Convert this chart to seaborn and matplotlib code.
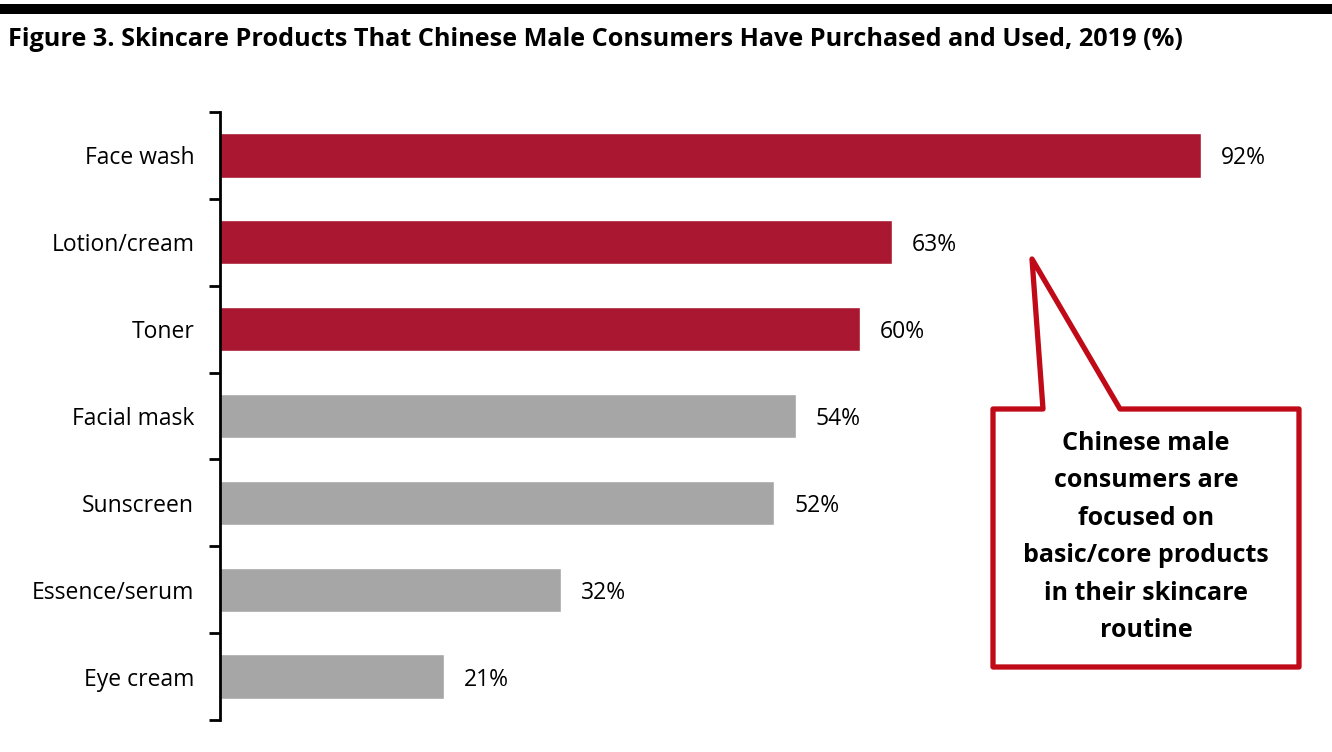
import matplotlib
matplotlib.use("Agg")
import matplotlib.pyplot as plt
import seaborn as sns
import pandas as pd
from matplotlib.patches import Polygon, Rectangle

categories = ["Face wash", "Lotion/cream", "Toner", "Facial mask", "Sunscreen", "Essence/serum", "Eye cream"]
values = [92, 63, 60, 54, 52, 32, 21]
bar_colors = ["#A91830", "#A91830", "#A91830", "#A6A6A6", "#A6A6A6", "#A6A6A6", "#A6A6A6"]
title = "Figure 3. Skincare Products That Chinese Male Consumers Have Purchased and Used, 2019 (%)"
callout = "Chinese male\nconsumers are\nfocused on\nbasic/core products\nin their skincare\nroutine"

sns.set_theme(style="white")
plt.rcParams['font.family'] = ['Open Sans', 'DejaVu Sans']
plt.rcParams['text.color'] = 'black'

W, H = 1332, 752
fig = plt.figure(figsize=(W / 100, H / 100), dpi=100)
ax = fig.add_axes([220 / W, 1 - 720 / H, (1320 - 220) / W, (720 - 112) / H])

df = pd.DataFrame({"cat": categories, "val": values})
sns.barplot(data=df, y="cat", x="val", hue="cat", palette=bar_colors, orient="h",
            width=0.51, legend=False, ax=ax, saturation=1)

px_per_unit = 981 / 92
ax.set_xlim(0, (1320 - 220) / px_per_unit)
ax.set_ylim(len(categories) - 0.5, -0.5)

for i, v in enumerate(values):
    ax.text(v + 20 / px_per_unit, i, f"{v}%", va="center_baseline", ha="left", fontsize=16.5,
            color="black")

for s in ["top", "right", "bottom"]:
    ax.spines[s].set_visible(False)
ax.spines["left"].set_color("black")
ax.spines["left"].set_linewidth(2)
ax.set_xticks([])
ax.set_yticks(range(len(categories)))
ax.set_yticklabels(categories, fontsize=16.5, color="black")
ax.tick_params(axis="y", which="major", length=0, pad=18.5)
ax.set_yticks([i - 0.5 for i in range(len(categories) + 1)], minor=True)
ax.tick_params(axis="y", which="minor", length=8, width=2, color="black", left=True, direction="out")
ax.set_xlabel("")
ax.set_ylabel("")

# top black band
fig.patches.append(Rectangle((0, 1 - 14 / H), 1, 10 / H, transform=fig.transFigure,
                             facecolor="black", edgecolor="none"))
fig.text(8 / W, 1 - 40 / H, title, fontsize=18.2, fontweight="bold", ha="left", va="center",
         color="black")

# callout
pts = [(993, 409), (1043, 409), (1032, 259), (1120, 409), (1299, 409), (1299, 667), (993, 667)]
poly = Polygon([(x / W, 1 - y / H) for x, y in pts], closed=True, transform=fig.transFigure,
               facecolor="white", edgecolor="#C00A18", linewidth=3.8, joinstyle="round")
fig.patches.append(poly)
fig.text(1146 / W, 1 - 537 / H, callout, fontsize=18, fontweight="bold", ha="center",
         va="center", linespacing=1.65, color="black")

fig.savefig("out.png", dpi=100)
